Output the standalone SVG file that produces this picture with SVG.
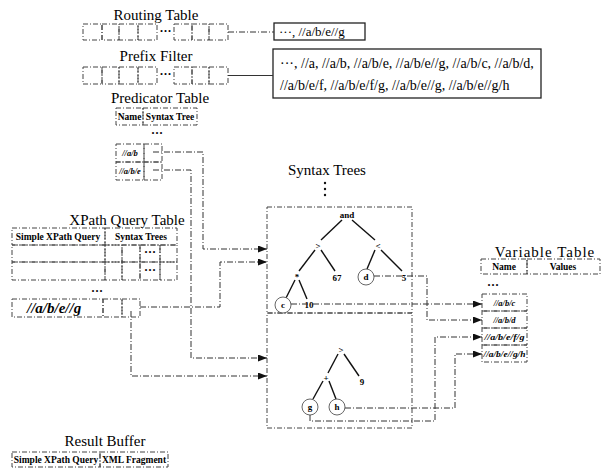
<svg xmlns="http://www.w3.org/2000/svg" width="608" height="470" viewBox="0 0 608 470">
<defs>
<style>
text{font-family:"Liberation Serif",serif;fill:#000}
.title{font-size:15px;text-anchor:middle}
.sm{font-size:9.5px;font-weight:bold;text-anchor:middle}
.it{font-size:8.5px;font-weight:bold;font-style:italic;text-anchor:middle}
.nd{font-size:9px;font-weight:bold;text-anchor:middle}
.dots{font-size:12px;font-weight:bold;text-anchor:middle}
.cell{fill:none;stroke:#444;stroke-width:1;stroke-dasharray:5 2 1 2}
.box{fill:none;stroke:#222;stroke-width:1.3}
.conn{fill:none;stroke:#333;stroke-width:1;stroke-dasharray:6 2 1 2}
.edge{stroke:#111;stroke-width:1.4}
.circ{fill:#fff;stroke:#555;stroke-width:0.9}
</style>
<marker id="ah" markerUnits="userSpaceOnUse" markerWidth="9" markerHeight="7" refX="9" refY="3.5" orient="auto">
<path d="M0,0 L9,3.5 L0,7 z" fill="#111"/>
</marker>
</defs>
<rect width="608" height="470" fill="#fff"/>

<g id="routing-table">
<text class="title" x="156" y="20">Routing Table</text>
<rect class="cell" x="83" y="24" width="19" height="16"/>
<rect class="cell" x="102" y="24" width="17" height="16"/>
<rect class="cell" x="119" y="24" width="19" height="16"/>
<rect class="cell" x="138" y="24" width="19" height="16"/>
<text class="dots" x="165.5" y="35">···</text>
<rect class="cell" x="174" y="24" width="18" height="16"/>
<rect class="cell" x="192" y="24" width="17" height="16"/>
<rect class="cell" x="209" y="24" width="19" height="16"/>
</g>

<g id="routing-result">
<rect class="box" x="274" y="23" width="91" height="17"/>
<text x="279" y="36" font-size="13">···, //a/b/e//g</text>
</g>

<g id="prefix-filter">
<text class="title" x="156" y="61">Prefix Filter</text>
<rect class="cell" x="83" y="67" width="19" height="17"/>
<rect class="cell" x="102" y="67" width="17" height="17"/>
<rect class="cell" x="119" y="67" width="19" height="17"/>
<rect class="cell" x="138" y="67" width="19" height="17"/>
<text class="dots" x="165.5" y="78">···</text>
<rect class="cell" x="174" y="67" width="18" height="17"/>
<rect class="cell" x="192" y="67" width="17" height="17"/>
<rect class="cell" x="209" y="67" width="19" height="17"/>
</g>

<g id="prefix-result">
<rect class="box" x="273" y="49" width="268" height="49"/>
<text x="280" y="68" font-size="14">···, //a, //a/b, //a/b/e, //a/b/e//g, //a/b/c, //a/b/d,</text>
<text x="280" y="90" font-size="14">//a/b/e/f, //a/b/e/f/g, //a/b/e//g, //a/b/e//g/h</text>
</g>

<g id="predicator-table">
<text class="title" x="160" y="103">Predicator Table</text>
<rect class="cell" x="116" y="108" width="27" height="17"/>
<rect class="cell" x="143" y="108" width="54" height="17"/>
<text class="sm" x="129.5" y="120">Name</text>
<text class="sm" x="170" y="120">Syntax Tree</text>
<text class="dots" x="157" y="137">···</text>
<rect class="cell" x="116" y="144" width="28" height="18"/>
<rect class="cell" x="144" y="144" width="18" height="18"/>
<rect class="cell" x="116" y="162" width="28" height="18"/>
<rect class="cell" x="144" y="162" width="18" height="18"/>
<text class="it" x="130" y="156">//a/b</text>
<text class="it" x="130" y="174">//a/b/e</text>
</g>

<g id="xpath-query-table">
<text class="title" x="127" y="225" font-size="16">XPath Query Table</text>
<rect class="cell" x="12" y="228" width="93" height="17"/>
<rect class="cell" x="105" y="228" width="72" height="17"/>
<text class="sm" x="58" y="240">Simple XPath Query</text>
<text class="sm" x="141" y="240">Syntax Trees</text>
<rect class="cell" x="12" y="245" width="93" height="17"/>
<rect class="cell" x="105" y="245" width="17" height="17"/>
<rect class="cell" x="122" y="245" width="18" height="17"/>
<rect class="cell" x="140" y="245" width="20" height="17"/>
<rect class="cell" x="160" y="245" width="17" height="17"/>
<text class="dots" x="150" y="256" font-size="9">···</text>
<rect class="cell" x="12" y="262" width="93" height="18"/>
<rect class="cell" x="105" y="262" width="17" height="18"/>
<rect class="cell" x="122" y="262" width="18" height="18"/>
<rect class="cell" x="140" y="262" width="20" height="18"/>
<rect class="cell" x="160" y="262" width="17" height="18"/>
<text class="dots" x="150" y="274" font-size="9">···</text>
<text class="dots" x="97" y="295">···</text>
<rect class="cell" x="12" y="299" width="91" height="18"/>
<rect class="cell" x="103" y="299" width="19" height="18"/>
<rect class="cell" x="122" y="299" width="18" height="18"/>
<text x="27" y="313" font-size="15" font-weight="bold" font-style="italic">//a/b/e//g</text>
</g>

<g id="syntax-trees">
<text class="title" x="327" y="175">Syntax Trees</text>
<circle cx="325" cy="183" r="1.2" fill="#111"/>
<circle cx="325" cy="189" r="1.2" fill="#111"/>
<circle cx="325" cy="195" r="1.2" fill="#111"/>
<rect class="cell" x="267" y="207" width="145" height="106"/>
<rect class="cell" x="267" y="313" width="145" height="115"/>
</g>

<g id="tree1">
<line class="edge" x1="342" y1="220" x2="321" y2="240"/>
<line class="edge" x1="352" y1="220" x2="375" y2="240"/>
<line class="edge" x1="315" y1="250" x2="299" y2="271"/>
<line class="edge" x1="321" y1="250" x2="335" y2="271"/>
<line class="edge" x1="375" y1="250" x2="367" y2="269"/>
<line class="edge" x1="381" y1="250" x2="402" y2="271"/>
<line class="edge" x1="295" y1="280" x2="286" y2="298"/>
<line class="edge" x1="299" y1="280" x2="307" y2="299"/>
<text class="nd" x="347" y="218">and</text>
<text class="nd" x="318" y="249">&gt;</text>
<text class="nd" x="378" y="249">&lt;</text>
<text class="nd" x="297" y="280">*</text>
<text class="nd" x="337" y="281" font-size="10">67</text>
<text class="nd" x="404" y="281" font-size="10">5</text>
<text class="nd" x="309" y="308" font-size="10">10</text>
<circle class="circ" cx="366" cy="277" r="8"/>
<text class="nd" x="366" y="280">d</text>
<circle class="circ" cx="283" cy="305" r="8"/>
<text class="nd" x="283" y="308">c</text>
</g>

<g id="tree2">
<line class="edge" x1="338" y1="354" x2="328" y2="373"/>
<line class="edge" x1="344" y1="354" x2="359" y2="376"/>
<line class="edge" x1="323" y1="381" x2="313" y2="399"/>
<line class="edge" x1="329" y1="381" x2="336" y2="399"/>
<text class="nd" x="341" y="353">&gt;</text>
<text class="nd" x="326" y="381" font-size="10">+</text>
<text class="nd" x="362" y="385" font-size="10">9</text>
<circle class="circ" cx="310" cy="407" r="8"/>
<text class="nd" x="310" y="410">g</text>
<circle class="circ" cx="337" cy="407" r="8"/>
<text class="nd" x="337" y="410">h</text>
</g>

<g id="variable-table">
<text class="title" x="545" y="257" letter-spacing="1">Variable Table</text>
<rect class="cell" x="481" y="259" width="46" height="15"/>
<rect class="cell" x="527" y="259" width="73" height="15"/>
<text class="sm" x="504" y="270">Name</text>
<text class="sm" x="563" y="270">Values</text>
<text class="dots" x="493" y="289" font-size="10">···</text>
<rect class="cell" x="482" y="294" width="45" height="17"/>
<rect class="cell" x="482" y="311" width="45" height="17"/>
<rect class="cell" x="482" y="328" width="45" height="17"/>
<rect class="cell" x="482" y="345" width="45" height="17"/>
<text class="it" x="504.5" y="305.5">//a/b/c</text>
<text class="it" x="504.5" y="322.5">//a/b/d</text>
<text class="it" x="504.5" y="339.5" font-size="8" textLength="40" lengthAdjust="spacingAndGlyphs">//a/b/e/f/g</text>
<text class="it" x="504.5" y="356.5" font-size="8" textLength="42" lengthAdjust="spacingAndGlyphs">//a/b/e//g/h</text>
</g>

<g id="result-buffer">
<text class="title" x="105" y="446">Result Buffer</text>
<rect class="cell" x="12" y="452" width="88" height="15"/>
<rect class="cell" x="100" y="452" width="68" height="15"/>
<text class="sm" x="56" y="463">Simple XPath Query</text>
<text class="sm" x="134" y="463">XML Fragment</text>
</g>

<g id="connectors">
<path class="conn" d="M228,32 H274"/>
<path d="M228,75.5 H273" fill="none" stroke="#333" stroke-width="1"/>
<path class="conn" d="M153,152 H203 V249 H267" marker-end="url(#ah)"/>
<path class="conn" d="M153,170 H191 V358 H267" marker-end="url(#ah)"/>
<path class="conn" d="M140,307 H220 V262 H267" marker-end="url(#ah)"/>
<path class="conn" d="M131,311 V376 H267" marker-end="url(#ah)"/>
<path class="conn" d="M291,304 H482" marker-end="url(#ah)"/>
<path class="conn" d="M374,276 H427 V320 H482" marker-end="url(#ah)"/>
<path class="conn" d="M310,415 V421 H435 V337 H482" marker-end="url(#ah)"/>
<path class="conn" d="M345,408 H455 V354 H482" marker-end="url(#ah)"/>
</g>
</svg>
